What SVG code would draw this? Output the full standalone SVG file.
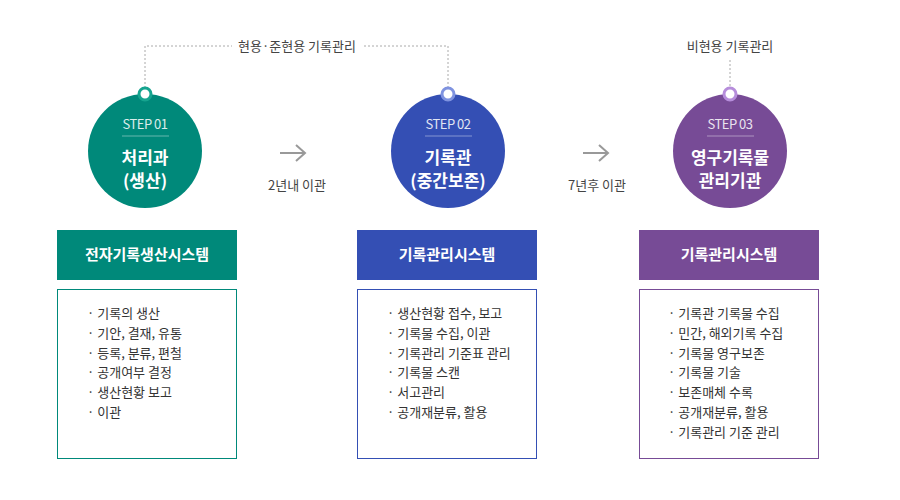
<svg xmlns="http://www.w3.org/2000/svg" width="900" height="500" viewBox="0 0 900 500">
<style>
text{font-family:"Noto Sans CJK KR","Noto Sans",sans-serif}
.dot{fill:none;stroke:#aaa;stroke-width:1;stroke-dasharray:2 2}
.lbl{font-size:13px;fill:#444;text-anchor:middle}
.step{font-size:13px;fill:#fff;text-anchor:middle;opacity:.85;letter-spacing:-0.5px}
.title{font-size:17px;fill:#fff;text-anchor:middle;font-weight:bold}
.hdr{font-size:15px;fill:#fff;text-anchor:middle;font-weight:bold}
.item{font-size:13px;fill:#333}
.arrow{fill:none;stroke:#999;stroke-width:2}
</style>
<g id="connectors">
<path class="dot" d="M145,88 V46 H232 M364,46 H448 V88"/>
<path class="dot" d="M730,60 V88"/>
<text class="lbl" x="297" y="51">현용·준현용 기록관리</text>
<text class="lbl" x="730" y="51">비현용 기록관리</text>
<path class="arrow" d="M280,153 H305 M296,145 L305,153 L296,161"/>
<text class="lbl" x="297" y="190">2년내 이관</text>
<path class="arrow" d="M583,153 H608 M599,145 L608,153 L599,161"/>
<text class="lbl" x="597" y="190">7년후 이관</text>
</g>
<g id="step1">
<circle cx="145" cy="151" r="57" fill="#00897a"/>
<circle cx="145" cy="94" r="6" fill="#fff" stroke="#15a48f" stroke-width="3"/>
<text class="step" x="145" y="129">STEP 01</text>
<line x1="122" y1="136" x2="169" y2="136" stroke="#fff" stroke-opacity=".4"/>
<text class="title" x="145" y="164">처리과</text>
<text class="title" x="145" y="187">(생산)</text>
</g>
<g id="step2">
<circle cx="448" cy="151" r="57" fill="#344fb4"/>
<circle cx="448" cy="94" r="6" fill="#fff" stroke="#7f93e0" stroke-width="3"/>
<text class="step" x="448" y="129">STEP 02</text>
<line x1="425" y1="136" x2="472" y2="136" stroke="#fff" stroke-opacity=".4"/>
<text class="title" x="448" y="164">기록관</text>
<text class="title" x="448" y="187">(중간보존)</text>
</g>
<g id="step3">
<circle cx="730" cy="151" r="57" fill="#774b96"/>
<circle cx="730" cy="94" r="6" fill="#fff" stroke="#b68ddb" stroke-width="3"/>
<text class="step" x="730" y="129">STEP 03</text>
<line x1="707" y1="136" x2="754" y2="136" stroke="#fff" stroke-opacity=".4"/>
<text class="title" x="730" y="164">영구기록물</text>
<text class="title" x="730" y="187">관리기관</text>
</g>
<g id="sys1">
<rect x="57" y="230" width="180" height="50" fill="#00897a"/>
<text class="hdr" x="147" y="260">전자기록생산시스템</text>
<rect x="57.5" y="289.5" width="179" height="169" fill="#fff" stroke="#00897a"/>
<text class="item" x="87" y="318">· 기록의 생산</text>
<text class="item" x="87" y="338">· 기안, 결재, 유통</text>
<text class="item" x="87" y="358">· 등록, 분류, 편철</text>
<text class="item" x="87" y="377">· 공개여부 결정</text>
<text class="item" x="87" y="397">· 생산현황 보고</text>
<text class="item" x="87" y="417">· 이관</text>
</g>
<g id="sys2">
<rect x="357" y="230" width="180" height="50" fill="#344fb4"/>
<text class="hdr" x="447" y="260">기록관리시스템</text>
<rect x="357.5" y="289.5" width="179" height="169" fill="#fff" stroke="#344fb4"/>
<text class="item" x="387" y="318">· 생산현황 접수, 보고</text>
<text class="item" x="387" y="338">· 기록물 수집, 이관</text>
<text class="item" x="387" y="358">· 기록관리 기준표 관리</text>
<text class="item" x="387" y="377">· 기록물 스캔</text>
<text class="item" x="387" y="397">· 서고관리</text>
<text class="item" x="387" y="417">· 공개재분류, 활용</text>
</g>
<g id="sys3">
<rect x="639" y="230" width="180" height="50" fill="#774b96"/>
<text class="hdr" x="729" y="260">기록관리시스템</text>
<rect x="639.5" y="289.5" width="179" height="169" fill="#fff" stroke="#774b96"/>
<text class="item" x="668" y="318">· 기록관 기록물 수집</text>
<text class="item" x="668" y="338">· 민간, 해외기록 수집</text>
<text class="item" x="668" y="358">· 기록물 영구보존</text>
<text class="item" x="668" y="377">· 기록물  기술</text>
<text class="item" x="668" y="397">· 보존매체 수록</text>
<text class="item" x="668" y="417">· 공개재분류, 활용</text>
<text class="item" x="668" y="437">· 기록관리 기준 관리</text>
</g>
</svg>
